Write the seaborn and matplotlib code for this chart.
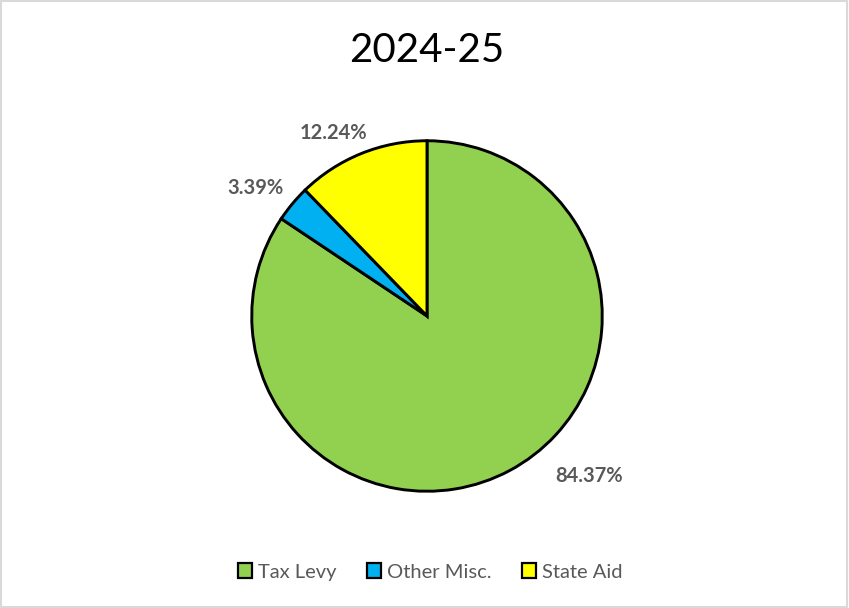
import matplotlib
matplotlib.use("Agg")
import matplotlib.pyplot as plt
from matplotlib.patches import Patch, Rectangle
import numpy as np
import seaborn as sns

title = "2024-25"
categories = ["Tax Levy", "Other Misc.", "State Aid"]
values = [84.37, 3.39, 12.24]
colors = ["#92D050", "#00B0F0", "#FFFF00"]

# label layout (angle offset in degrees from wedge middle, radial distance)
label_offsets = [17.3, 3.2, 5.0]
label_dists = [1.30, 1.22, 1.17]

sns.set_theme(style="white")
plt.rcParams["font.family"] = ["Lato", "DejaVu Sans"]

fig = plt.figure(figsize=(8.49, 6.08), dpi=100)
fig.patch.set_facecolor("white")
fig.patches.append(Rectangle((0.001, 0.001), 0.997, 0.997, transform=fig.transFigure,
                             fill=False, edgecolor="#D9D9D9", linewidth=1.5))

ax = fig.add_axes([(427 - 177) / 849, (608 - 316 - 177) / 608, 354 / 849, 354 / 608])
wedges, _ = ax.pie(values, colors=colors, startangle=90, counterclock=False,
                   wedgeprops=dict(edgecolor="black", linewidth=2.1))
ax.set_xlim(-1.01, 1.01)
ax.set_ylim(-1.01, 1.01)
ax.set_aspect("equal")
ax.axis("off")

for w, v, off, d in zip(wedges, values, label_offsets, label_dists):
    mid = np.deg2rad((w.theta1 + w.theta2) / 2 + off)
    ax.text(d * np.cos(mid), d * np.sin(mid), f"{v:.2f}%", ha="center", va="center",
            fontsize=14.5, fontweight="bold", color="#595959", clip_on=False)

fig.text(427 / 849, 1 - 50 / 608, title, ha="center", va="center", fontsize=29, color="black")

handles = [Patch(facecolor=c, edgecolor="black", linewidth=1.6) for c in colors]
fig.legend(handles, categories, loc="center", bbox_to_anchor=(430 / 849, 1 - 572 / 608),
           ncol=3, frameon=False, fontsize=14.5, handlelength=0.7, handleheight=0.7,
           handletextpad=0.3, columnspacing=1.5, labelcolor="#595959")

fig.savefig("out.png", dpi=100, facecolor="white")
